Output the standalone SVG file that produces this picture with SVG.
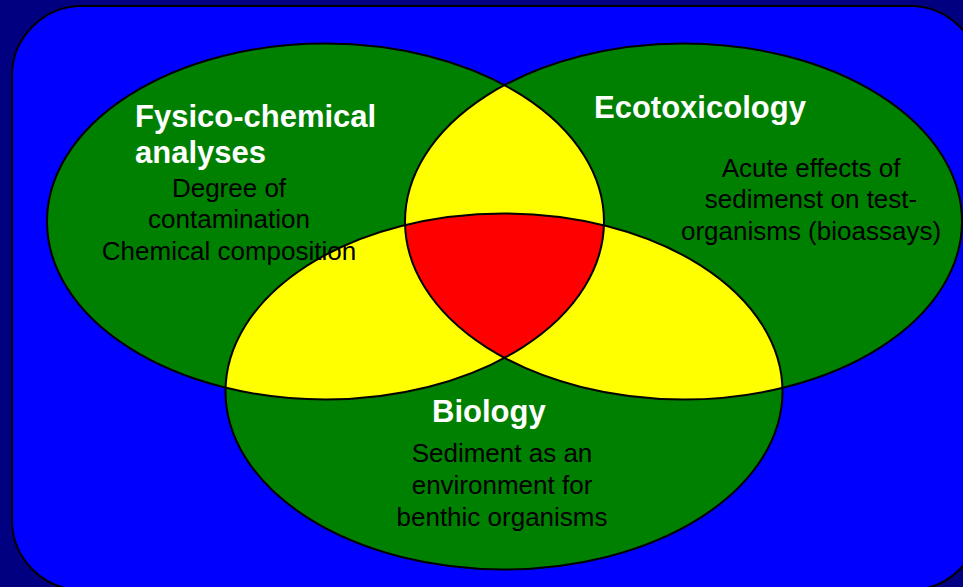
<svg xmlns="http://www.w3.org/2000/svg" xmlns:xlink="http://www.w3.org/1999/xlink" width="963" height="587" viewBox="0 0 963 587">
  <style>
    .title { font-family: "Liberation Sans", Arial, sans-serif; font-weight: bold; font-size: 31px; fill: #FFFFFF; }
    .body { font-family: "Liberation Sans", Arial, sans-serif; font-size: 26px; fill: #000000; text-anchor: middle; }
    .outline { fill: none; stroke: #000000; stroke-width: 2; }
  </style>
  <defs>
    <ellipse id="eA" cx="325.5" cy="221.5" rx="278.5" ry="178"/>
    <ellipse id="eB" cx="683.5" cy="221.5" rx="278.5" ry="178"/>
    <ellipse id="eC" cx="504" cy="391.5" rx="278.5" ry="178"/>
    <clipPath id="cA"><use xlink:href="#eA"/></clipPath>
    <clipPath id="cB"><use xlink:href="#eB"/></clipPath>
    <clipPath id="cC"><use xlink:href="#eC"/></clipPath>
  </defs>

  <rect x="0" y="0" width="963" height="587" fill="#000080"/>
  <rect x="12" y="6" width="968" height="584" rx="70" ry="70" fill="#0000FF" stroke="#000000" stroke-width="2"/>

  <g id="fills">
    <use xlink:href="#eA" fill="#008000"/>
    <use xlink:href="#eB" fill="#008000"/>
    <use xlink:href="#eC" fill="#008000"/>
    <g clip-path="url(#cB)"><use xlink:href="#eA" fill="#FFFF00"/></g>
    <g clip-path="url(#cC)"><use xlink:href="#eA" fill="#FFFF00"/></g>
    <g clip-path="url(#cC)"><use xlink:href="#eB" fill="#FFFF00"/></g>
    <g clip-path="url(#cC)"><g clip-path="url(#cB)"><use xlink:href="#eA" fill="#FF0000"/></g></g>
  </g>

  <g id="connectors"/>

  <g id="node-fysico">
    <use xlink:href="#eA" class="outline"/>
    <text class="title" x="135" y="127">Fysico-chemical</text>
    <text class="title" x="135" y="163">analyses</text>
    <text class="body" x="229" y="197">Degree of</text>
    <text class="body" x="229" y="228">contamination</text>
    <text class="body" x="229" y="260">Chemical composition</text>
  </g>

  <g id="node-ecotox">
    <use xlink:href="#eB" class="outline"/>
    <text class="title" x="594" y="118">Ecotoxicology</text>
    <text class="body" x="811" y="177">Acute effects of</text>
    <text class="body" x="811" y="208">sedimenst on test-</text>
    <text class="body" x="811" y="240">organisms (bioassays)</text>
  </g>

  <g id="node-biology">
    <use xlink:href="#eC" class="outline"/>
    <text class="title" x="432" y="422">Biology</text>
    <text class="body" x="502" y="462">Sediment as an</text>
    <text class="body" x="502" y="494">environment for</text>
    <text class="body" x="502" y="526">benthic organisms</text>
  </g>
</svg>
